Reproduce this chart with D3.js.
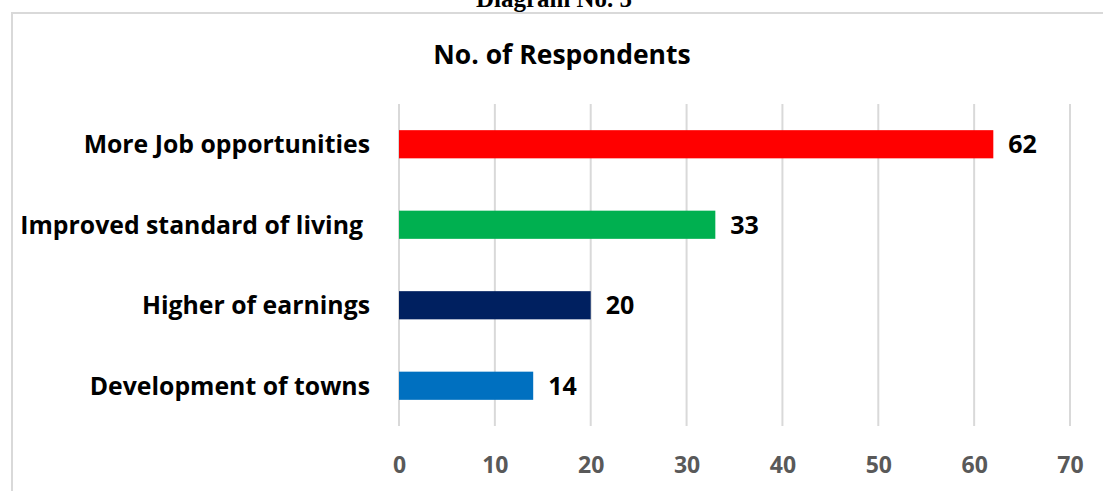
<!DOCTYPE html>
<html>
<head>
<meta charset="utf-8">
<script src="https://cdn.jsdelivr.net/npm/d3@7"></script>
<style>
  body { margin: 0; background: #fff; }
  svg { display: block; font-family: "Open Sans", "Noto Sans", sans-serif; }
</style>
</head>
<body>
<svg id="chart" width="1103" height="491"></svg>
<script>
let categories = ["More Job opportunities", "Improved standard of living", "Higher of earnings", "Development of towns"];
let respondents = [62, 33, 20, 14];
let barColors = ["#ff0000", "#00b050", "#002060", "#0070c0"];
let xTicks = [0, 10, 20, 30, 40, 50, 60, 70];

let svg = d3.select("#chart")

// outer chart frame (runs off the right and bottom edges)
svg.append("rect")
    .attr("x", 12)
    .attr("y", 13)
    .attr("width", 1200)
    .attr("height", 600)
    .attr("fill", "none")
    .attr("stroke", "#d9d9d9")
    .attr("stroke-width", 2)

svg.append("text")
    .attr("x", 554)
    .attr("y", 7)
    .attr("text-anchor", "middle")
    .style("font-family", "'Liberation Serif', serif")
    .style("font-weight", "bold")
    .style("font-size", "25px")
    .text("Diagram No. 5")

svg.append("text")
    .attr("x", 562)
    .attr("y", 64)
    .attr("text-anchor", "middle")
    .style("font-weight", "bold")
    .style("font-size", "26.5px")
    .text("No. of Respondents")

let x = d3.scaleLinear()
    .domain([0, 70])
    .range([399, 1070])

let y = d3.scaleBand()
    .domain(categories)
    .range([104, 426])
    .paddingInner(0.65)
    .paddingOuter(0.325)

// vertical gridlines
svg.selectAll(".grid")
    .data(xTicks)
    .enter()
    .append("line")
    .attr("x1", d => x(d))
    .attr("x2", d => x(d))
    .attr("y1", 104)
    .attr("y2", 426)
    .attr("stroke", "#d9d9d9")
    .attr("stroke-width", 2)

let xAxis = svg.append("g")
    .attr("transform", "translate(0,426)")
    .call(d3.axisBottom(x).tickValues(xTicks).tickSize(0).tickPadding(31))

xAxis.select(".domain").remove()
xAxis.selectAll("text")
    .attr("fill", "#595959")
    .style("font-family", "'Open Sans', sans-serif")
    .style("font-weight", "bold")
    .style("font-size", "23px")

svg.selectAll(".bar")
    .data(respondents)
    .enter()
    .append("rect")
    .attr("x", x(0))
    .attr("y", (d, i) => y(categories[i]))
    .attr("width", d => x(d) - x(0))
    .attr("height", y.bandwidth())
    .attr("fill", (d, i) => barColors[i])

svg.selectAll(".value")
    .data(respondents)
    .enter()
    .append("text")
    .attr("x", d => x(d) + 15)
    .attr("y", (d, i) => y(categories[i]) + y.bandwidth() / 2)
    .attr("dy", "0.36em")
    .style("font-weight", "bold")
    .style("font-size", "25px")
    .text(d => d)

svg.selectAll(".cat")
    .data(categories)
    .enter()
    .append("text")
    .attr("x", (d, i) => i == 1 ? 363 : 370)
    .attr("y", d => y(d) + y.bandwidth() / 2)
    .attr("dy", "0.36em")
    .attr("text-anchor", "end")
    .style("font-weight", "bold")
    .style("font-size", "24.8px")
    .text(d => d)
</script>
</body>
</html>
